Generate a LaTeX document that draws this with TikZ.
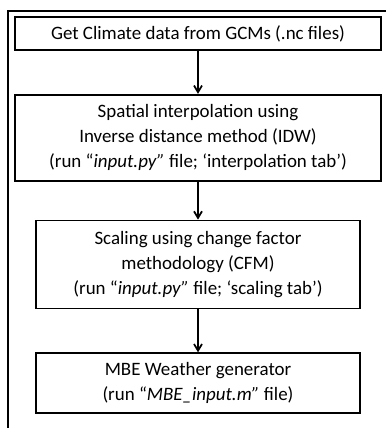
\documentclass[tikz,border=0pt]{standalone}
\usepackage{fontspec}
\setmainfont{Carlito}
\usetikzlibrary{arrows.meta,positioning}

\tikzset{
  procbox/.style={draw, line width=1.3pt, align=center, inner sep=2pt,
    font=\fontsize{14.2}{18.8}\selectfont},
  wide/.style={minimum width=274.5pt},
  narrow/.style={minimum width=243pt},
  flow/.style={-{Straight Barb[length=5pt,width=6pt]}, line width=1.3pt}
}

\begin{document}
\begin{tikzpicture}[x=0.75pt, y=-0.75pt]
  \useasboundingbox (0,0) rectangle (388,428);
  % outer frame, cut off at the right and bottom
  \coordinate (tr) at (386,11);
  \coordinate (tl) at (8,11);
  \coordinate (bl) at (8,428);
  \draw[line width=2pt] (tr) -- (tl) -- (bl);

  \node (get) [procbox, wide, minimum height=24.75pt] at (198,33.5)
    {Get Climate data from GCMs (.nc files)};
  \node (interp) [procbox, wide, minimum height=64.5pt, below=32.25pt of get]
    {Spatial interpolation using\\
     Inverse distance method (IDW)\\
     (run “\textit{input.py”} file; ‘interpolation tab’)};
  \node (scale) [procbox, narrow, minimum height=66pt, below=28.5pt of interp]
    {Scaling using change factor\\
     methodology (CFM)\\
     (run “\textit{input.py”} file; ‘scaling tab’)};
  \node (mbe) [procbox, narrow, minimum height=45pt, below=32.25pt of scale]
    {MBE Weather generator\\
     (run “\textit{MBE\_input.m”} file)};

  \draw[flow] (get) -- (interp);
  \draw[flow] (interp) -- (scale);
  \draw[flow] (scale) -- (mbe);
\end{tikzpicture}
\end{document}
